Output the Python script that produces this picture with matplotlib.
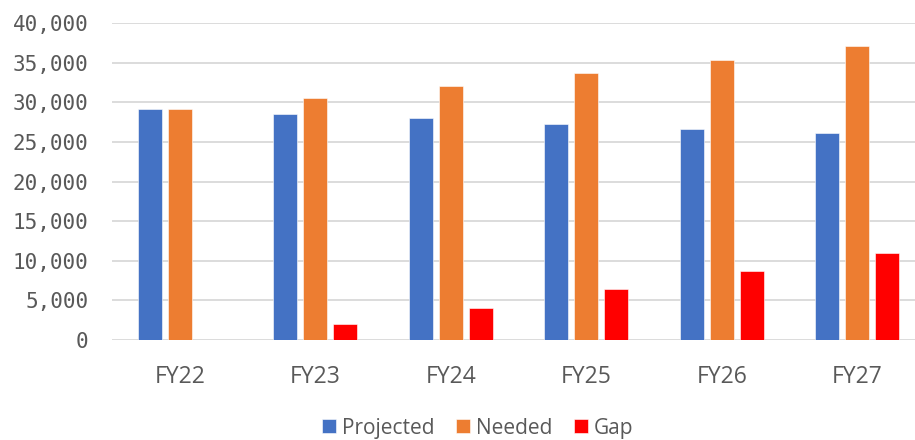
import numpy as np
import matplotlib
matplotlib.use("Agg")
import matplotlib.pyplot as plt
from matplotlib.ticker import FuncFormatter

years = ["FY22", "FY23", "FY24", "FY25", "FY26", "FY27"]
projected = [29120, 28530, 28060, 27230, 26600, 26170]
needed = [29120, 30540, 32070, 33670, 35340, 37140]
gap = [0, 2010, 4000, 6440, 8740, 10950]

series = [("Projected", projected, "#4472C4"),
          ("Needed", needed, "#ED7D31"),
          ("Gap", gap, "#FF0000")]

fig = plt.figure(figsize=(9.15, 4.40), dpi=100)
# plot area runs slightly past the right edge, as in the source image
ax = fig.add_axes([112 / 915, 100 / 440, 813 / 915, 316.7 / 440])

x = np.arange(len(years))
width = 0.177
step = 0.223
for i, (name, vals, col) in enumerate(series):
    ax.bar(x + (i - 1) * step, vals, width, color=col, label=name,
           edgecolor="white", linewidth=0.4, zorder=3)

ax.set_xlim(-0.5, len(years) - 0.5)
ax.set_ylim(0, 40000)
ax.set_yticks(range(0, 40001, 5000))
ax.yaxis.set_major_formatter(FuncFormatter(lambda v, p: f"{int(v):,}"))
ax.set_xticks(x)
ax.set_xticklabels(years, fontfamily="Open Sans", fontsize=16.5, color="#595959")
for lab in ax.get_yticklabels():
    lab.set_fontfamily("DejaVu Sans Mono")
    lab.set_fontsize(15)
    lab.set_color("#595959")

ax.grid(axis="y", color="#D9D9D9", linewidth=1.3, zorder=0)
ax.set_axisbelow(True)
for s in ax.spines.values():
    s.set_visible(False)
ax.tick_params(axis="both", length=0)
ax.tick_params(axis="y", pad=17)
ax.tick_params(axis="x", pad=18)

fig.legend(loc="center", bbox_to_anchor=(478 / 915, 12 / 440), ncol=3,
           frameon=False, prop={"family": "Open Sans", "size": 15},
           labelcolor="#595959", handlelength=0.65, handleheight=0.65,
           handletextpad=0.3, columnspacing=1.05, borderaxespad=0)

fig.savefig("out.png", dpi=100)
